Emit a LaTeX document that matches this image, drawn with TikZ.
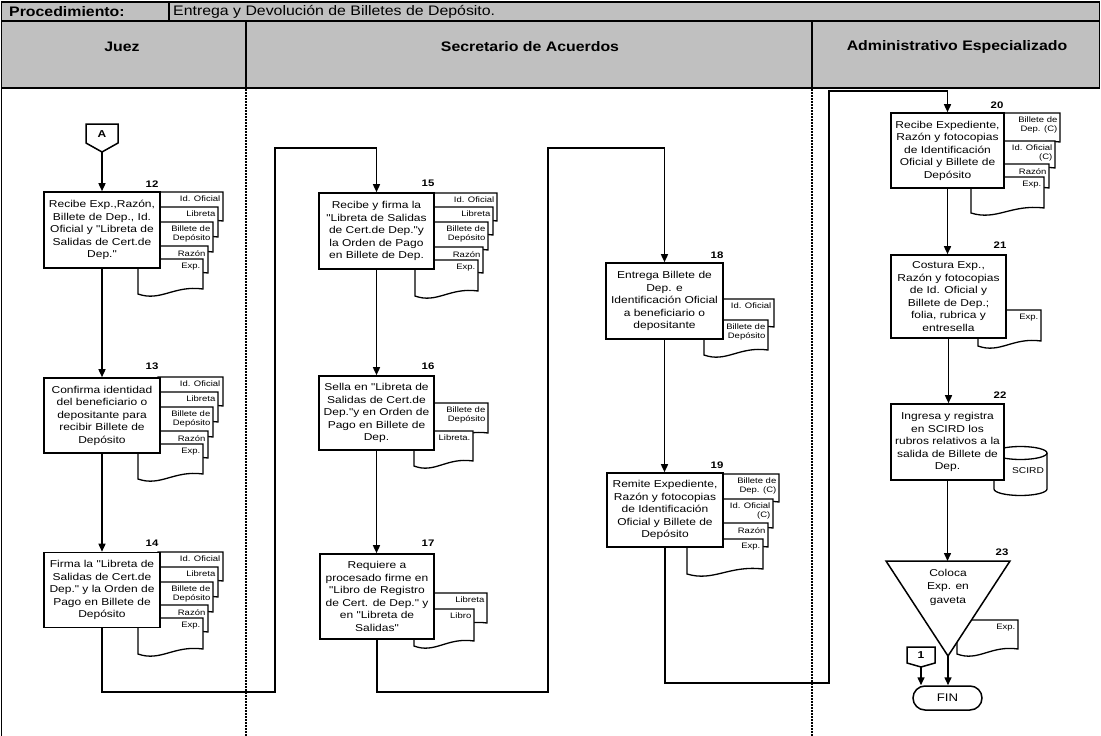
\documentclass[tikz,border=0pt]{standalone}
\usepackage{fontspec}
\setmainfont{Liberation Sans}
\newfontfamily\ff[FakeStretch=1.2]{Liberation Sans}
\newfontfamily\hf[FakeStretch=1.15]{Liberation Sans}
\usetikzlibrary{arrows.meta}
\definecolor{hdr}{RGB}{192,192,192}

% document symbol: name, left, top, right, bottom of right side, label
\newcommand{\docsheet}[6]{%
  \pgfmathsetmacro{\dsw}{#4-#2}%
  \draw[docline] (#2,#3) -- (#4,#3) -- (#4,#5)
     .. controls ({#4-0.45*\dsw},{#5-4}) and ({#2+0.35*\dsw},{#5+13}) .. (#2,{#5+5}) -- cycle;
  \node[doctext] (#1) at ({#4-2.5},{#3+4}) {#6};
}

\begin{document}
\begin{tikzpicture}[x=1pt,y=-1pt,
  proc/.style={draw, line width=1.6pt, fill=white, inner sep=0pt, align=center,
               font=\ff\fontsize{10}{12.5}\selectfont},
  num/.style={font=\ff\bfseries\fontsize{9.5}{10}\selectfont, inner sep=0pt},
  doctext/.style={font=\ff\fontsize{7.9}{9}\selectfont, align=right, inner sep=0pt, anchor=north east},
  docline/.style={draw, line width=1.3pt, fill=white},
  flow/.style={line width=1.5pt, -{Triangle[length=8pt,width=7pt]}},
  lane/.style={line width=1.2pt, dash pattern=on 1.5pt off 1.5pt},
  hfont/.style={font=\hf\bfseries\fontsize{13.8}{15}\selectfont, inner sep=0pt},
  tfont/.style={font=\hf\fontsize{13.8}{15}\selectfont, inner sep=0pt},
  conn/.style={draw, line width=1.5pt, fill=white}
]
\useasboundingbox (0,0) rectangle (1101,736);

% ---------- header ----------
\fill[hdr] (1.5,2) rectangle (1099.5,88);
\draw[line width=1.2pt] (1.5,2) rectangle (1099.5,88);
\draw[line width=1.2pt] (1.5,21) -- (1099.5,21);
\draw[line width=1.2pt] (169,2) -- (169,21);
\draw[line width=1.2pt] (246,21) -- (246,88);
\draw[line width=1.2pt] (812,21) -- (812,88);
\draw[line width=2.2pt] (1.5,88) -- (1099.5,88);
\draw[line width=1.2pt] (1.5,88) -- (1.5,736);
\draw[lane] (246,89) -- (246,736);
\draw[lane] (812,89) -- (812,736);

\node[hfont, anchor=west] (proc) at (9,12) {Procedimiento:};
\node[tfont, anchor=west] (title) at (173,12) {Entrega y Devolución de Billetes de Depósito.};
\node[hfont] (ljuez) at (122,47) {Juez};
\node[hfont] (lsec) at (530,47) {Secretario de Acuerdos};
\node[hfont] (ladm) at (957,47) {Administrativo Especializado};

% ---------- Juez ----------
\draw[conn] (86,124) -- (118,124) -- (118,143) -- (102,152) -- (86,143) -- cycle;
\node[num, font=\ff\bfseries\fontsize{10}{11}\selectfont] (labA) at (102,134) {A};
\coordinate (conA) at (102,152);

\docsheet{d12a}{158}{192}{223}{221}{Id. Oficial}
\docsheet{d12b}{153}{207}{218}{237}{Libreta}
\docsheet{d12c}{148}{222}{213}{252}{Billete de\\Depósito}
\docsheet{d12d}{143}{246}{208}{273}{Razón}
\docsheet{d12e}{138}{259}{203}{289}{Exp.}
\node[proc, minimum width=116pt, minimum height=76pt] (b12) at (102,230)
  {Recibe Exp.,Razón,\\Billete de Dep., Id.\\Oficial y "Libreta de\\Salidas de Cert.de\\Dep."};
\node[num] (n12) at (152,184) {12};

\docsheet{d13a}{158}{377}{223}{406}{Id. Oficial}
\docsheet{d13b}{153}{392}{218}{422}{Libreta}
\docsheet{d13c}{148}{407}{213}{437}{Billete de\\Depósito}
\docsheet{d13d}{143}{431}{208}{458}{Razón}
\docsheet{d13e}{138}{444}{203}{474}{Exp.}
\node[proc, minimum width=116pt, minimum height=75pt] (b13) at (102,415.5)
  {Confirma identidad\\del beneficiario o\\depositante  para\\recibir Billete de\\Depósito};
\node[num] (n13) at (152,366) {13};

\docsheet{d14a}{158}{552}{223}{581}{Id. Oficial}
\docsheet{d14b}{153}{567}{218}{597}{Libreta}
\docsheet{d14c}{148}{582}{213}{612}{Billete de\\Depósito}
\docsheet{d14d}{143}{605}{208}{632}{Razón}
\docsheet{d14e}{138}{618}{203}{649}{Exp.}
\node[proc, minimum width=116pt, minimum height=75pt] (b14) at (102,590)
  {Firma la "Libreta de\\Salidas de Cert.de\\Dep." y la Orden de\\Pago en Billete de\\Depósito};
\node[num] (n14) at (152,543) {14};

% ---------- Secretario de Acuerdos ----------
\docsheet{d15a}{434}{193}{497}{221}{Id. Oficial}
\docsheet{d15b}{430}{207}{493}{235}{Libreta}
\docsheet{d15c}{425}{222}{488}{250}{Billete de\\Depósito}
\docsheet{d15d}{420}{247}{483}{273}{Razón}
\docsheet{d15e}{415}{260}{478}{291}{Exp.}
\node[proc, minimum width=115pt, minimum height=76pt] (b15) at (376.5,231)
  {Recibe y firma la\\"Libreta de Salidas\\de Cert.de Dep."y\\la Orden de Pago\\en Billete de Dep.};
\node[num] (n15) at (428,183) {15};

\docsheet{d16a}{425}{403}{488}{433}{Billete de\\Depósito}
\docsheet{d16b}{414}{431}{473}{461}{Libreta.}
\node[proc, minimum width=115pt, minimum height=74pt] (b16) at (376.5,413)
  {Sella en "Libreta de\\Salidas de Cert.de\\Dep."y en Orden de\\Pago en Billete de\\Dep.};
\node[num] (n16) at (428,366) {16};

\docsheet{d17a}{425}{593}{487}{623}{Libreta}
\docsheet{d17b}{414}{609}{474}{641}{Libro}
\node[proc, minimum width=114pt, minimum height=85pt] (b17) at (377,596.5)
  {Requiere a\\procesado firme en\\"Libro de Registro\\de Cert. de Dep." y\\en "Libreta de\\Salidas"};
\node[num] (n17) at (428,543) {17};

\docsheet{d18a}{715}{299}{774}{327}{Id. Oficial}
\docsheet{d18b}{704}{320}{768}{350}{Billete de\\Depósito}
\node[proc, minimum width=117pt, minimum height=76pt] (b18) at (664.5,301)
  {Entrega Billete de\\Dep. e\\Identificación Oficial\\a beneficiario o\\depositante};
\node[num] (n18) at (717,255) {18};

\docsheet{d19a}{715}{474}{779}{502}{Billete de\\Dep. (C)}
\docsheet{d19b}{705}{499}{773}{528}{Id. Oficial\\(C)}
\docsheet{d19c}{695}{523}{768}{547}{Razón}
\docsheet{d19d}{687}{539}{763}{569}{Exp.}
\node[proc, minimum width=116pt, minimum height=74pt] (b19) at (665,510)
  {Remite Expediente,\\Razón y fotocopias\\de Identificación\\Oficial y Billete de\\Depósito};
\node[num] (n19) at (717,465) {19};

% ---------- Administrativo Especializado ----------
\docsheet{d20a}{995}{113}{1060}{142}{Billete de\\Dep. (C)}
\docsheet{d20b}{985}{141}{1055}{168}{Id. Oficial\\(C)}
\docsheet{d20c}{978}{164}{1049}{188}{Razón}
\docsheet{d20d}{971}{177}{1044}{208}{Exp.}
\node[proc, minimum width=113pt, minimum height=75pt] (b20) at (947.5,150.5)
  {Recibe Expediente,\\Razón y fotocopias\\de Identificación\\Oficial y Billete de\\Depósito};
\node[num] (n20) at (997,105) {20};

\docsheet{d21a}{978}{310}{1041}{341}{Exp.}
\node[proc, minimum width=115pt, minimum height=83pt] (b21) at (948.5,296.5)
  {Costura Exp.,\\Razón y fotocopias\\de Id. Oficial y\\Billete de Dep.;\\folia, rubrica y\\entresella};
\node[num] (n21) at (1000,245) {21};

% data store
\draw[docline] (994,453) -- (994,489) arc[start angle=180, end angle=360, x radius=26.5pt, y radius=6.5pt]
  -- (1047,453) arc[start angle=0, end angle=180, x radius=26.5pt, y radius=6.5pt] -- cycle;
\draw[line width=1.3pt] (994,453) arc[start angle=180, end angle=360, x radius=26.5pt, y radius=6.5pt];
\node[font=\ff\fontsize{8.5}{10}\selectfont, inner sep=0pt] (scird) at (1028,471) {SCIRD};
\node[proc, minimum width=113pt, minimum height=76pt] (b22) at (947.5,442)
  {Ingresa y registra\\en SCIRD los\\rubros relativos a la\\salida de Billete de\\Dep.};
\node[num] (n22) at (1000,395) {22};

% archive
\docsheet{d23a}{957}{620}{1018}{649}{Exp.}
\draw[conn] (886,561) -- (1010,561) -- (948,656) -- cycle;
\coordinate (t23top) at (948,561);
\coordinate (t23bot) at (948,656);
\node[font=\ff\fontsize{10}{13.5}\selectfont, align=center, inner sep=0pt] (t23) at (948,587)
  {Coloca\\Exp. en\\gaveta};
\node[num] (n23) at (1002,552) {23};

% connector and end
\draw[conn] (907,647) -- (935,647) -- (935,663) -- (921,667) -- (907,663) -- cycle;
\node[num, font=\ff\bfseries\fontsize{10}{11}\selectfont] (lab1) at (921,655) {1};
\coordinate (con1) at (921,667);
\node[draw, line width=1.5pt, fill=white, rounded corners=12pt, minimum width=69pt, minimum height=24pt,
      inner sep=0pt, font=\ff\fontsize{11}{12}\selectfont] (fin) at (947.5,698) {FIN};

% ---------- flow ----------
\draw[flow] (conA) -- (b12.north);
\draw[flow] (b12.south) -- (b13.north);
\draw[flow] (b13.south) -- (b14.north);
\draw[flow] (b14.south) |- (275,692) -- (275,148) -| (b15.north);
\draw[flow] (b15.south) -- (b15.south |- b16.north);
\draw[flow] (b16.south) -- (b16.south |- b17.north);
\draw[flow] (b17.south) |- (548,692) -- (548,148) -| (b18.north);
\draw[flow] (b18.south) -- (b18.south |- b19.north);
\draw[flow] (b19.south) |- (829,683) -- (829,91) -| (b20.north);
\draw[flow] (b20.south) -- (b20.south |- b21.north);
\draw[flow] (b21.south) -- (b21.south |- b22.north);
\draw[flow] (b22.south) -- (b22.south |- t23top);
\draw[flow] (t23bot) -- (t23bot |- fin.north);
\draw[flow] (con1) -- (con1 |- fin.north);
\end{tikzpicture}
\end{document}
